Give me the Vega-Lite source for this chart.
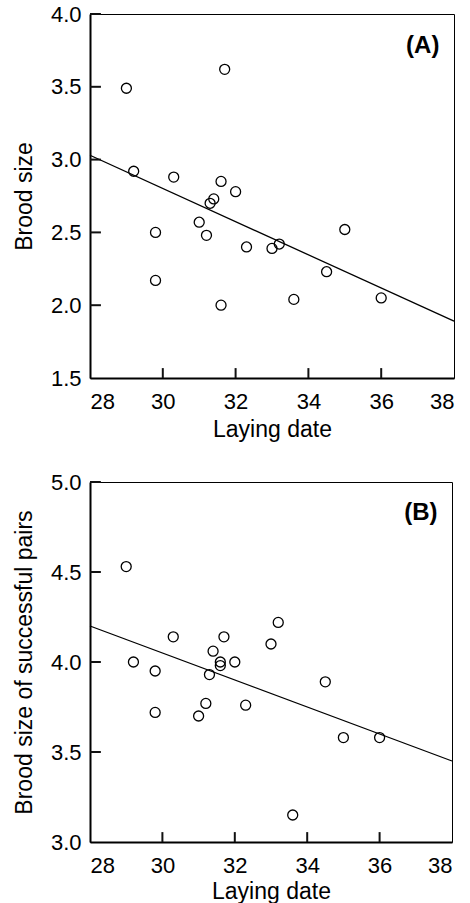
{
  "$schema": "https://vega.github.io/schema/vega-lite/v6.json",
  "background": "white",
  "padding": {"left": 12, "top": 2, "right": 5, "bottom": 0},
  "spacing": 28,
  "config": {
    "view": {"stroke": "black", "strokeWidth": 1},
    "font": "Liberation Sans",
    "axis": {
      "grid": false,
      "ticks": false,
      "domainColor": "black",
      "domainWidth": 2,
      "labelFont": "Liberation Sans",
      "labelFontSize": 22,
      "labelColor": "black",
      "titleFont": "Liberation Sans",
      "titleFontSize": 23,
      "titleFontWeight": "normal",
      "titleColor": "black"
    }
  },
  "datasets": {
    "a": [
      {"date": 29.0, "brood": 3.49},
      {"date": 31.7, "brood": 3.62},
      {"date": 29.2, "brood": 2.92},
      {"date": 30.3, "brood": 2.88},
      {"date": 31.6, "brood": 2.85},
      {"date": 32.0, "brood": 2.78},
      {"date": 31.4, "brood": 2.73},
      {"date": 31.3, "brood": 2.70},
      {"date": 31.0, "brood": 2.57},
      {"date": 31.2, "brood": 2.48},
      {"date": 29.8, "brood": 2.50},
      {"date": 29.8, "brood": 2.17},
      {"date": 31.6, "brood": 2.00},
      {"date": 32.3, "brood": 2.40},
      {"date": 33.0, "brood": 2.39},
      {"date": 33.2, "brood": 2.42},
      {"date": 35.0, "brood": 2.52},
      {"date": 34.5, "brood": 2.23},
      {"date": 33.6, "brood": 2.04},
      {"date": 36.0, "brood": 2.05}
    ],
    "aline": [
      {"date": 28, "brood": 3.03},
      {"date": 38, "brood": 1.89}
    ],
    "b": [
      {"date": 29.0, "brood": 4.53},
      {"date": 29.2, "brood": 4.00},
      {"date": 29.8, "brood": 3.95},
      {"date": 29.8, "brood": 3.72},
      {"date": 30.3, "brood": 4.14},
      {"date": 31.0, "brood": 3.70},
      {"date": 31.2, "brood": 3.77},
      {"date": 31.3, "brood": 3.93},
      {"date": 31.4, "brood": 4.06},
      {"date": 31.6, "brood": 4.00},
      {"date": 31.6, "brood": 3.98},
      {"date": 31.7, "brood": 4.14},
      {"date": 32.0, "brood": 4.00},
      {"date": 32.3, "brood": 3.76},
      {"date": 33.0, "brood": 4.10},
      {"date": 33.2, "brood": 4.22},
      {"date": 34.5, "brood": 3.89},
      {"date": 35.0, "brood": 3.58},
      {"date": 36.0, "brood": 3.58},
      {"date": 33.6, "brood": 3.15}
    ],
    "bline": [
      {"date": 28, "brood": 4.20},
      {"date": 38, "brood": 3.45}
    ],
    "xticks": [{"v": 30}, {"v": 32}, {"v": 34}, {"v": 36}],
    "yticksa": [{"v": 2.0}, {"v": 2.5}, {"v": 3.0}, {"v": 3.5}, {"v": 4.0}],
    "yticksb": [{"v": 3.5}, {"v": 4.0}, {"v": 4.5}, {"v": 5.0}],
    "alabel": [{"date": 37.6, "brood": 3.78, "label": "(A)"}],
    "blabel": [{"date": 37.6, "brood": 4.83, "label": "(B)"}]
  },
  "vconcat": [
    {
      "width": 364,
      "height": 364,
      "layer": [
        {
          "data": {"name": "aline"},
          "mark": {"type": "line", "color": "black", "strokeWidth": 1.3},
          "encoding": {
            "x": {"field": "date", "type": "quantitative", "scale": {"domain": [28, 38], "nice": false, "zero": false},
              "axis": {"values": [28, 30, 32, 34, 36, 38], "title": "Laying date", "labelPadding": 13, "titlePadding": 6}},
            "y": {"field": "brood", "type": "quantitative", "scale": {"domain": [1.5, 4.0], "nice": false, "zero": false},
              "axis": {"values": [1.5, 2.0, 2.5, 3.0, 3.5, 4.0], "format": ".1f", "title": "Brood size", "labelPadding": 9, "titlePadding": 14}}
          }
        },
        {
          "data": {"name": "xticks"},
          "mark": {"type": "rule", "color": "#111", "strokeWidth": 2},
          "encoding": {
            "x": {"field": "v", "type": "quantitative"},
            "y": {"datum": 1.5, "type": "quantitative"},
            "y2": {"datum": 1.568}
          }
        },
        {
          "data": {"name": "yticksa"},
          "mark": {"type": "rule", "color": "#111", "strokeWidth": 2},
          "encoding": {
            "y": {"field": "v", "type": "quantitative"},
            "x": {"datum": 28, "type": "quantitative"},
            "x2": {"datum": 28.3}
          }
        },
        {
          "data": {"name": "a"},
          "mark": {"type": "point", "shape": "circle", "filled": false, "color": "black", "size": 100, "strokeWidth": 1.3, "opacity": 1},
          "encoding": {
            "x": {"field": "date", "type": "quantitative"},
            "y": {"field": "brood", "type": "quantitative"}
          }
        },
        {
          "data": {"name": "alabel"},
          "mark": {"type": "text", "align": "right", "baseline": "middle", "fontSize": 24, "fontWeight": "bold", "font": "Liberation Sans", "color": "black"},
          "encoding": {
            "x": {"field": "date", "type": "quantitative"},
            "y": {"field": "brood", "type": "quantitative"},
            "text": {"field": "label"}
          }
        }
      ]
    },
    {
      "width": 362,
      "height": 360,
      "layer": [
        {
          "data": {"name": "bline"},
          "mark": {"type": "line", "color": "black", "strokeWidth": 1.3},
          "encoding": {
            "x": {"field": "date", "type": "quantitative", "scale": {"domain": [28, 38], "nice": false, "zero": false},
              "axis": {"values": [28, 30, 32, 34, 36, 38], "title": "Laying date", "labelPadding": 13, "titlePadding": 4}},
            "y": {"field": "brood", "type": "quantitative", "scale": {"domain": [3.0, 5.0], "nice": false, "zero": false},
              "axis": {"values": [3.0, 3.5, 4.0, 4.5, 5.0], "format": ".1f", "title": "Brood size of successful pairs", "labelPadding": 9, "titlePadding": 14}}
          }
        },
        {
          "data": {"name": "xticks"},
          "mark": {"type": "rule", "color": "#111", "strokeWidth": 2},
          "encoding": {
            "x": {"field": "v", "type": "quantitative"},
            "y": {"datum": 3.0, "type": "quantitative"},
            "y2": {"datum": 3.055}
          }
        },
        {
          "data": {"name": "yticksb"},
          "mark": {"type": "rule", "color": "#111", "strokeWidth": 2},
          "encoding": {
            "y": {"field": "v", "type": "quantitative"},
            "x": {"datum": 28, "type": "quantitative"},
            "x2": {"datum": 28.3}
          }
        },
        {
          "data": {"name": "b"},
          "mark": {"type": "point", "shape": "circle", "filled": false, "color": "black", "size": 100, "strokeWidth": 1.3, "opacity": 1},
          "encoding": {
            "x": {"field": "date", "type": "quantitative"},
            "y": {"field": "brood", "type": "quantitative"}
          }
        },
        {
          "data": {"name": "blabel"},
          "mark": {"type": "text", "align": "right", "baseline": "middle", "fontSize": 24, "fontWeight": "bold", "font": "Liberation Sans", "color": "black"},
          "encoding": {
            "x": {"field": "date", "type": "quantitative"},
            "y": {"field": "brood", "type": "quantitative"},
            "text": {"field": "label"}
          }
        }
      ]
    }
  ]
}
